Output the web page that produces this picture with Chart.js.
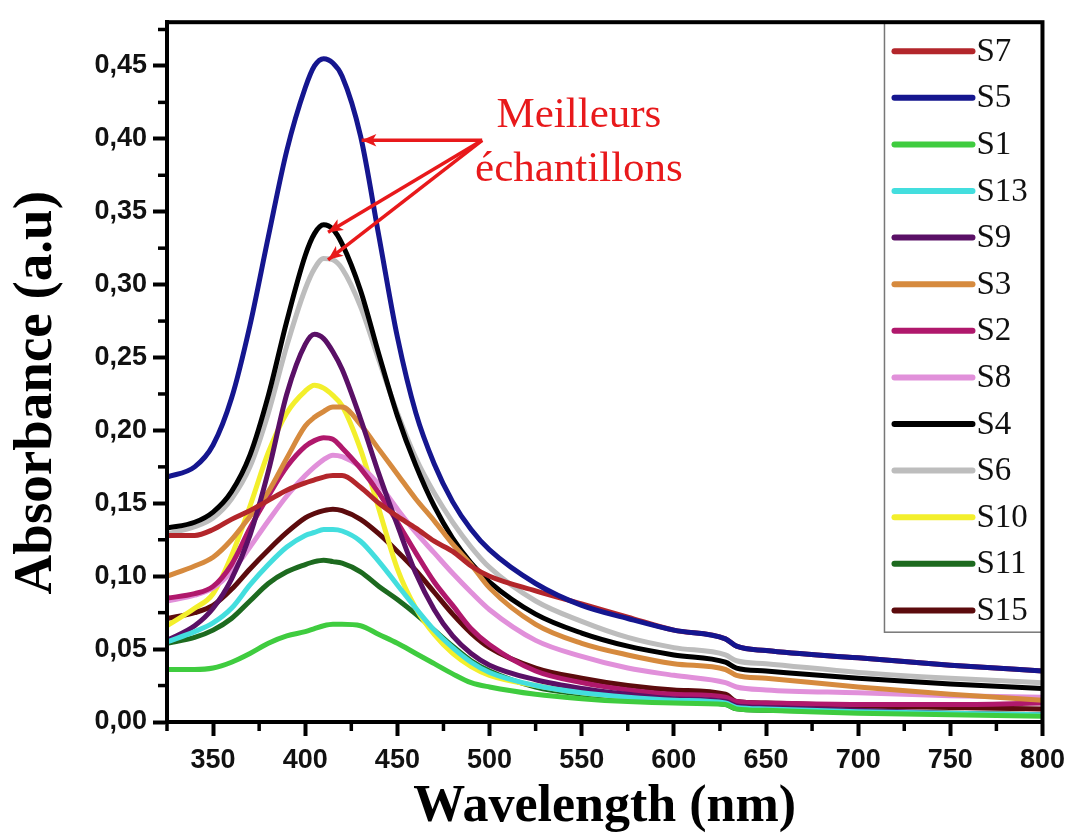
<!DOCTYPE html>
<html>
<head>
<meta charset="utf-8">
<script src="https://cdn.jsdelivr.net/npm/chart.js@4.4.0/dist/chart.umd.min.js"></script>
<style>
  html, body { margin: 0; padding: 0; background: #fff; }
</style>
</head>
<body>
<canvas id="chart" width="1073" height="839"></canvas>
<script>
// wavelength grid (nm) shared by every spectrum
const wavelengths = [325, 340, 350, 360, 370, 380, 390, 400, 405, 410, 415, 420, 430, 440, 450, 460, 470, 480, 490, 500, 525, 550, 575, 600, 628, 634, 650, 700, 750, 800];

// absorbance
const S7  = [.128, .128, .132, .139, .145, .152, .159, .164, .166, .168, .169, .169, .161, .150, .141, .133, .124, .117, .107, .100, .090, .081, .072, .063, .057, .052, .049, .044, .039, .035];
const S5  = [.168, .175, .190, .222, .272, .333, .392, .435, .450, .455, .452, .443, .402, .333, .264, .212, .177, .151, .132, .118, .095, .080, .071, .063, .057, .052, .049, .044, .039, .035];
const S1  = [.036, .036, .037, .041, .047, .054, .059, .062, .064, .066, .067, .067, .066, .060, .054, .047, .040, .033, .027, .024, .019, .016, .014, .013, .012, .009, .008, .006, .005, .004];
const S13 = [.055, .062, .068, .078, .094, .108, .120, .128, .130, .132, .132, .131, .124, .110, .094, .078, .063, .051, .041, .034, .025, .020, .017, .015, .013, .010, .009, .007, .006, .005];
const S9  = [.056, .066, .078, .098, .128, .172, .225, .259, .266, .263, .254, .242, .208, .170, .135, .102, .077, .059, .047, .039, .029, .023, .019, .016, .014, .011, .010, .008, .006, .005];
const S3  = [.100, .107, .113, .125, .141, .158, .181, .203, .209, .213, .216, .216, .204, .187, .170, .153, .138, .122, .108, .092, .067, .054, .046, .040, .036, .032, .030, .024, .019, .015];
const S2  = [.085, .088, .093, .108, .133, .155, .175, .189, .193, .195, .194, .188, .174, .157, .137, .116, .096, .080, .064, .053, .035, .027, .022, .019, .017, .014, .013, .012, .012, .013];
const S8  = [.083, .087, .092, .103, .120, .138, .155, .169, .175, .180, .183, .182, .175, .163, .146, .130, .116, .102, .089, .077, .056, .045, .037, .032, .027, .024, .022, .020, .018, .017];
const S4  = [.133, .137, .144, .158, .183, .224, .275, .320, .335, .341, .338, .328, .296, .252, .210, .176, .148, .126, .109, .096, .074, .061, .052, .046, .041, .037, .035, .030, .026, .023];
const S6  = [.129, .134, .140, .153, .175, .212, .258, .297, .311, .318, .317, .311, .285, .248, .212, .181, .157, .137, .120, .106, .083, .069, .058, .051, .046, .042, .040, .034, .030, .027];
const S10 = [.066, .078, .088, .114, .148, .185, .212, .227, .231, .229, .224, .217, .187, .146, .105, .078, .060, .047, .038, .032, .025, .020, .017, .015, .013, .010, .009, .007, .006, .005];
const S11 = [.054, .058, .063, .071, .083, .095, .103, .108, .110, .111, .110, .109, .103, .093, .084, .074, .063, .052, .042, .035, .024, .019, .016, .014, .012, .009, .008, .007, .006, .005];
const S15 = [.071, .075, .080, .091, .105, .118, .130, .140, .143, .145, .146, .145, .139, .129, .117, .104, .089, .074, .061, .051, .037, .030, .025, .022, .019, .014, .013, .011, .010, .009];

const seriesNames  = ['S7', 'S5', 'S1', 'S13', 'S9', 'S3', 'S2', 'S8', 'S4', 'S6', 'S10', 'S11', 'S15'];
const seriesValues = [S7, S5, S1, S13, S9, S3, S2, S8, S4, S6, S10, S11, S15];
const seriesColors = ['#b3262b', '#15168f', '#3fcc3f', '#43dede', '#5a1066', '#d68a3e', '#b0186c', '#e190da', '#000000', '#bdbdbd', '#f3ef2c', '#1d6a1f', '#5c0b0d'];

const xTicks = [350, 400, 450, 500, 550, 600, 650, 700, 750, 800];
const yTicks = [0, 0.05, 0.10, 0.15, 0.20, 0.25, 0.30, 0.35, 0.40, 0.45];

// annotation, in data units
const noteLines = ['Meilleurs', 'échantillons'];
const noteX = 548.5;
const noteY = [0.408, 0.371];
const arrowTail = [496, 0.399];
const arrowHeads = [[430.6, 0.399], [412.4, 0.336], [412.4, 0.317]];

const datasets = seriesNames.map((name, i) => ({
  label: name,
  data: wavelengths.map((w, j) => ({ x: w, y: seriesValues[i][j] })),
  borderColor: seriesColors[i],
  backgroundColor: seriesColors[i],
  borderWidth: 5,
  pointRadius: 0,
  fill: false,
  cubicInterpolationMode: 'monotone',
  order: name === 'S5' ? -1 : 0
}));

const framePlugin = {
  id: 'frame',
  afterDraw(chart) {
    const { ctx, chartArea: a, scales } = chart;
    const xs = scales.x, ys = scales.y;
    ctx.save();

    // minor ticks
    ctx.strokeStyle = '#000';
    ctx.lineWidth = 3.5;
    xTicks.map(v => v - 25).forEach(v => {
      const px = xs.getPixelForValue(v);
      ctx.beginPath(); ctx.moveTo(px, a.bottom); ctx.lineTo(px, a.bottom + 9); ctx.stroke();
    });
    yTicks.map(v => v + 0.025).forEach(v => {
      const py = ys.getPixelForValue(v);
      ctx.beginPath(); ctx.moveTo(a.left, py); ctx.lineTo(a.left - 9, py); ctx.stroke();
    });

    // legend box
    const lx = a.right - 158, ly = a.top, lw = 158, lh = 610;
    ctx.fillStyle = '#fff';
    ctx.fillRect(lx, ly, lw, lh);
    ctx.strokeStyle = '#777';
    ctx.lineWidth = 1.5;
    ctx.strokeRect(lx, ly, lw, lh);
    ctx.font = '33px "Liberation Serif"';
    ctx.textBaseline = 'middle';
    ctx.textAlign = 'left';
    chart.data.datasets.forEach((ds, i) => {
      const y = ly + 29 + i * 46.6;
      ctx.strokeStyle = ds.borderColor;
      ctx.lineWidth = 6;
      ctx.lineCap = 'round';
      ctx.beginPath(); ctx.moveTo(lx + 10, y); ctx.lineTo(lx + 88, y); ctx.stroke();
      ctx.fillStyle = '#111';
      ctx.fillText(ds.label, lx + 92, y + 1);
    });
    ctx.lineCap = 'butt';

    // frame
    ctx.strokeStyle = '#000';
    ctx.lineWidth = 4;
    ctx.strokeRect(a.left, a.top, a.right - a.left, a.bottom - a.top);

    // annotation
    const red = '#e8191b';
    ctx.fillStyle = red;
    ctx.font = '43px "Liberation Serif"';
    ctx.textAlign = 'center';
    ctx.textBaseline = 'alphabetic';
    noteLines.forEach((t, i) => ctx.fillText(t, xs.getPixelForValue(noteX), ys.getPixelForValue(noteY[i])));
    const tx = xs.getPixelForValue(arrowTail[0]), ty = ys.getPixelForValue(arrowTail[1]);
    ctx.strokeStyle = red;
    ctx.lineWidth = 3.5;
    arrowHeads.forEach(([hv, hy]) => {
      const hx = xs.getPixelForValue(hv), hpy = ys.getPixelForValue(hy);
      const ang = Math.atan2(hpy - ty, hx - tx);
      ctx.beginPath(); ctx.moveTo(tx, ty); ctx.lineTo(hx, hpy); ctx.stroke();
      ctx.beginPath();
      ctx.moveTo(hx, hpy);
      ctx.lineTo(hx - 16 * Math.cos(ang - 0.4), hpy - 16 * Math.sin(ang - 0.4));
      ctx.lineTo(hx - 11 * Math.cos(ang), hpy - 11 * Math.sin(ang));
      ctx.lineTo(hx - 16 * Math.cos(ang + 0.4), hpy - 16 * Math.sin(ang + 0.4));
      ctx.closePath();
      ctx.fill();
    });
    ctx.restore();
  }
};

new Chart(document.getElementById('chart'), {
  type: 'line',
  data: { datasets },
  options: {
    responsive: false,
    devicePixelRatio: 1,
    animation: false,
    layout: { padding: { top: 17, right: 28, left: 0, bottom: 0 } },
    plugins: { legend: { display: false }, tooltip: { enabled: false } },
    scales: {
      x: {
        type: 'linear',
        min: 325,
        max: 800,
        afterBuildTicks: s => { s.ticks = xTicks.map(v => ({ value: v })); },
        afterFit: s => { s.height = 117; },
        ticks: {
          autoSkip: false,
          maxRotation: 0,
          padding: 8,
          color: '#111',
          font: { family: 'Liberation Sans', weight: 'bold', size: 27 }
        },
        grid: { drawOnChartArea: false, drawTicks: true, tickLength: 14, tickWidth: 4, tickColor: '#000' },
        border: { display: true, color: '#000', width: 4 },
        title: {
          display: true,
          text: 'Wavelength (nm)',
          color: '#000',
          font: { family: 'Liberation Serif', weight: 'bold', size: 52 },
          padding: { top: 0, bottom: 0 }
        }
      },
      y: {
        type: 'linear',
        min: 0,
        max: 0.48,
        afterBuildTicks: s => { s.ticks = yTicks.map(v => ({ value: v })); },
        afterFit: s => { s.width = 167; },
        ticks: {
          padding: 6,
          color: '#111',
          font: { family: 'Liberation Sans', weight: 'bold', size: 27 },
          callback: v => v.toFixed(2).replace('.', ',')
        },
        grid: { drawOnChartArea: false, drawTicks: true, tickLength: 14, tickWidth: 4, tickColor: '#000' },
        border: { display: true, color: '#000', width: 4 },
        title: {
          display: true,
          text: 'Absorbance (a.u)   ',
          color: '#000',
          font: { family: 'Liberation Serif', weight: 'bold', size: 55 },
          padding: { top: 4, bottom: 0 }
        }
      }
    }
  },
  plugins: [framePlugin]
});
</script>
</body>
</html>
